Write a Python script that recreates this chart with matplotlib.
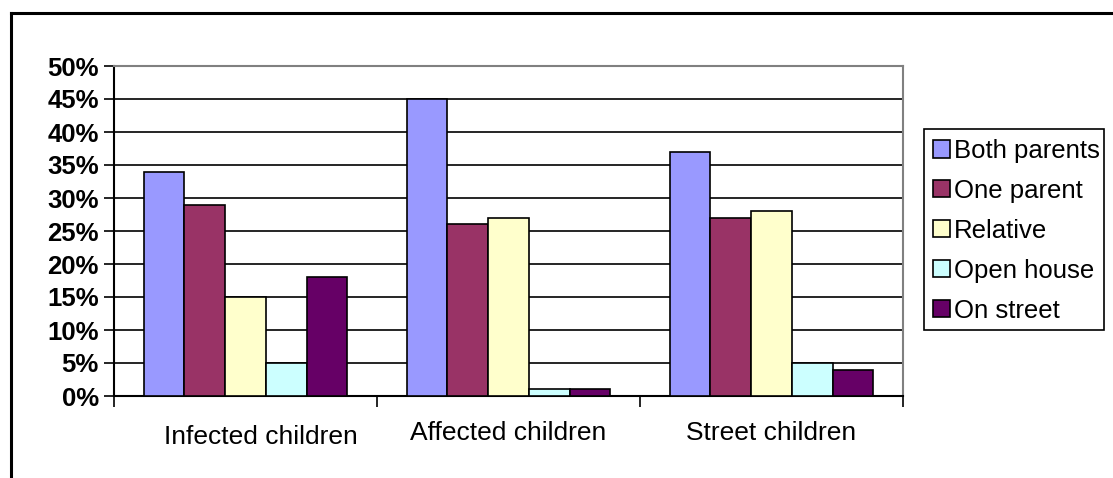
import matplotlib
matplotlib.use('Agg')
import matplotlib.pyplot as plt
import matplotlib.lines as mlines
import matplotlib.patches as mpatches
import matplotlib.transforms as mtransforms
import numpy as np
from matplotlib.ticker import PercentFormatter, FixedLocator, NullFormatter

plt.rcParams['font.family'] = ['Liberation Sans', 'DejaVu Sans']

# Living situation of children, share per group (%)
groups = ['Infected children', 'Affected children', 'Street children']
series = ['Both parents', 'One parent', 'Relative', 'Open house', 'On street']
both_parents = [34, 45, 37]
one_parent = [29, 26, 27]
relative = [15, 27, 28]
open_house = [5, 1, 5]
on_street = [18, 1, 4]
colors = ['#9999FF', '#993366', '#FFFFCC', '#CCFFFF', '#660066']

values = [both_parents, one_parent, relative, open_house, on_street]

W, H = 1113, 478
fig = plt.figure(figsize=(W / 100, H / 100), dpi=100)
ax = fig.add_axes([114 / W, 1 - 396 / H, (903 - 114) / W, (396 - 66) / H])

x = np.arange(len(groups))
width = 0.155
for i, (name, vals, col) in enumerate(zip(series, values, colors)):
    ax.bar(x + (i - 2) * width, vals, width, color=col, edgecolor='black',
           linewidth=1.2, label=name, zorder=3)

ax.set_xlim(-0.5, len(groups) - 0.5)
ax.set_ylim(0, 50)
ax.yaxis.set_major_locator(FixedLocator(np.arange(0, 51, 5)))
ax.yaxis.set_major_formatter(PercentFormatter(decimals=0))
for tl in ax.get_yticklabels():
    tl.set_fontweight('bold')
ax.tick_params(axis='y', labelsize=18.5, length=7, width=1.2, pad=4, direction='out')

# category ticks sit on group boundaries, labels in the middle
ax.xaxis.set_major_locator(FixedLocator(np.arange(-0.5, len(groups), 1.0)))
ax.xaxis.set_major_formatter(NullFormatter())
ax.xaxis.set_minor_locator(FixedLocator(x))
ax.set_xticklabels(groups, minor=True)
ax.tick_params(axis='x', which='major', length=8, width=1.2, direction='out')
ax.tick_params(axis='x', which='minor', length=0, labelsize=19, pad=18)
# first category label sits a little right and lower
first = ax.get_xticklabels(minor=True)[0]
first.set_transform(first.get_transform() +
                    mtransforms.ScaledTranslation(15 / 100, -4 / 100, fig.dpi_scale_trans))

for y in np.arange(5, 50, 5):
    ax.axhline(y, color='black', linewidth=1.2, zorder=1)

ax.spines['left'].set_linewidth(1.5)
ax.spines['bottom'].set_linewidth(1.5)
ax.spines['top'].set_color('#808080')
ax.spines['right'].set_color('#808080')
ax.spines['top'].set_linewidth(1.5)
ax.spines['right'].set_linewidth(1.5)

# legend box drawn separately so the entries can run over its edge
fig.add_artist(mpatches.Rectangle((924 / W, 1 - 330 / H), 180 / W, 201 / H,
                                  transform=fig.transFigure, facecolor='white',
                                  edgecolor='black', linewidth=1.2, zorder=4))
leg = fig.legend(loc='upper left', bbox_to_anchor=(933 / W, 1 - 139 / H),
                 fontsize=18.5, frameon=False,
                 handlelength=0.65, handleheight=0.65, handletextpad=0.15,
                 labelspacing=0.62, borderpad=0, borderaxespad=0)
leg.set_zorder(5)
for h in leg.legend_handles:
    h.set_linewidth(1.2)

# outer frame: left and top edges
fig.add_artist(mlines.Line2D([11 / W, 11 / W], [0, 1 - 13 / H], color='black', linewidth=2.2,
                             transform=fig.transFigure))
fig.add_artist(mlines.Line2D([11 / W, 1.0], [1 - 13 / H, 1 - 13 / H], color='black', linewidth=2.2,
                             transform=fig.transFigure))

fig.savefig('out.png', dpi=100)
